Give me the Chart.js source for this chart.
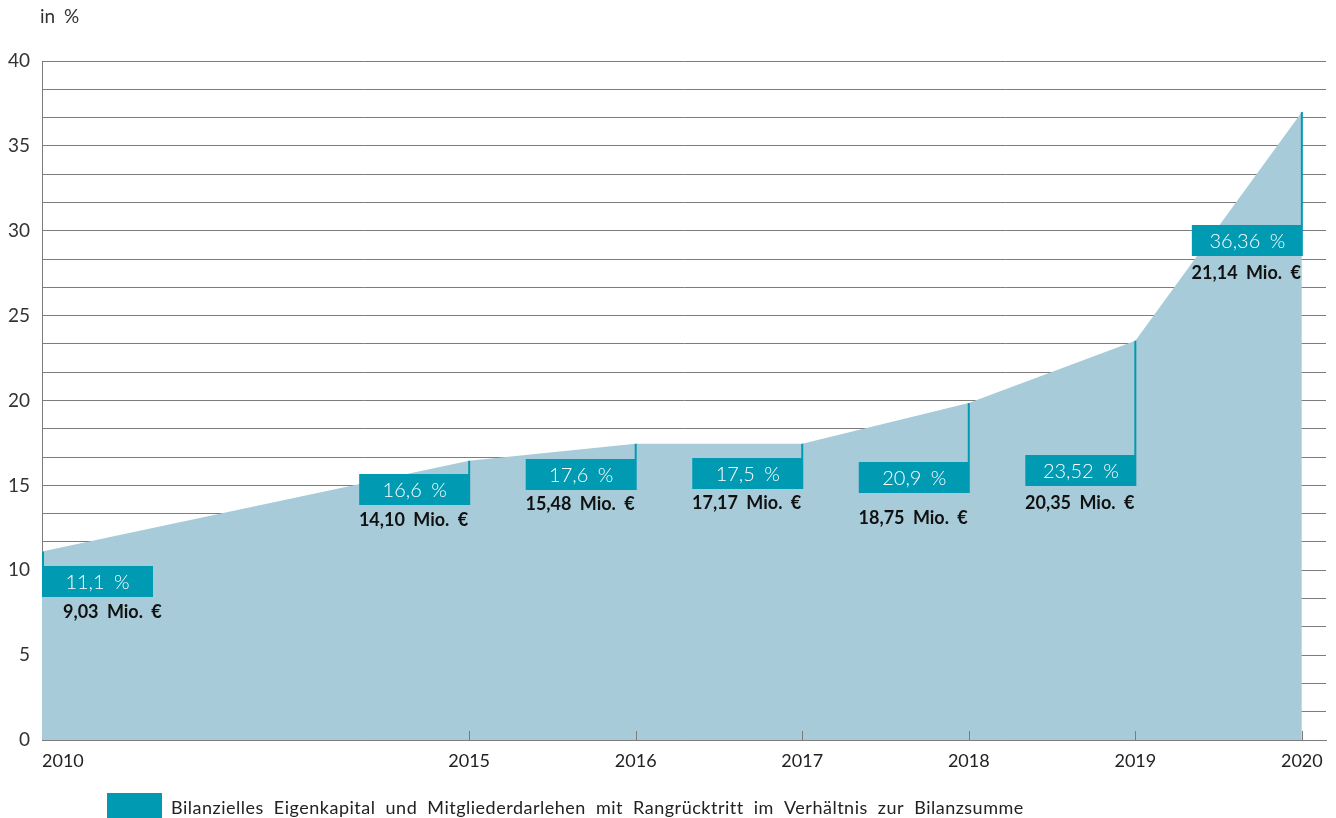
<!DOCTYPE html>
<html>
<head>
<meta charset="utf-8">
<script src="https://cdn.jsdelivr.net/npm/chart.js@4/dist/chart.umd.min.js"></script>
<style>
  body { margin: 0; background: #fff; }
</style>
</head>
<body>
<canvas id="ratio-chart" width="1336" height="818"></canvas>
<script>
// Daten
const years = ["2010", "2015", "2016", "2017", "2018", "2019", "2020"];
// Abstand auf der x-Achse wie im Original (2010 -> 2015 gestaucht)
const axisPos = [0, 2.565, 3.565, 4.565, 5.565, 6.565, 7.565];
const ratioValues = [11.1, 16.45, 17.45, 17.45, 19.85, 23.52, 37.0];
const ratioLabels = ["11,1 %", "16,6 %", "17,6 %", "17,5 %", "20,9 %", "23,52 %", "36,36 %"];
const capitalLabels = ["9,03 Mio. €", "14,10 Mio. €", "15,48 Mio. €", "17,17 Mio. €", "18,75 Mio. €", "20,35 Mio. €", "21,14 Mio. €"];
const legendText = "Bilanzielles Eigenkapital und Mitgliederdarlehen mit Rangrücktritt im Verhältnis zur Bilanzsumme";

// Lage der Beschriftungskästen (Oberkante in %, Abstand Text in px)
const boxLayout = [
  { top: 10.25, gap: 15 },
  { top: 15.67, gap: 15 },
  { top: 16.55, gap: 14 },
  { top: 16.61, gap: 14 },
  { top: 16.38, gap: 25 },
  { top: 16.79, gap: 17 },
  { top: 30.34, gap: 17 }
];

const FONT = 'Lato, "Open Sans", sans-serif';
const TEAL = "#009ab2";
const AREA = "#a7cbd9";
const GRID = "#7c7c7c";

function spacing(ctx, letter, word) {
  if ("letterSpacing" in ctx) ctx.letterSpacing = letter + "px";
  if ("wordSpacing" in ctx) ctx.wordSpacing = word + "px";
}

const overlay = {
  id: "overlay",
  afterDraw(chart) {
    const ctx = chart.ctx;
    const x = chart.scales.x;
    const y = chart.scales.y;
    const area = chart.chartArea;
    const gridPx = y.ticks.map(t => y.getPixelForValue(t.value));
    ctx.save();

    // kleine Striche an der x-Achse (nach innen)
    ctx.strokeStyle = GRID;
    ctx.lineWidth = 1;
    axisPos.forEach((p, i) => {
      if (i === 0) return;
      const px = Math.round(x.getPixelForValue(p)) + 0.5;
      ctx.beginPath();
      ctx.moveTo(px, area.bottom - 9);
      ctx.lineTo(px, area.bottom);
      ctx.stroke();
    });

    // Jahreszahlen
    ctx.fillStyle = "#222";
    ctx.font = "18px " + FONT;
    ctx.textBaseline = "middle";
    years.forEach((yr, i) => {
      const px = x.getPixelForValue(axisPos[i]);
      ctx.textAlign = i === 0 ? "left" : "center";
      ctx.fillText(yr, px, area.bottom + 21);
    });

    // Kästen + Linien
    years.forEach((yr, i) => {
      const px = x.getPixelForValue(axisPos[i]);
      const topVal = y.getPixelForValue(ratioValues[i]);
      const boxY = Math.round(y.getPixelForValue(boxLayout[i].top));
      const lx = i === 0 ? px + 1 : px;
      ctx.strokeStyle = TEAL;
      ctx.lineWidth = 2;
      ctx.beginPath();
      ctx.moveTo(lx, topVal);
      ctx.lineTo(lx, boxY);
      ctx.stroke();

      const bw = 111, bh = 31;
      const bx = i === 0 ? px : px - 110;
      ctx.fillStyle = TEAL;
      ctx.fillRect(bx, boxY, bw, bh);

      spacing(ctx, 0, 4);
      ctx.fillStyle = "#fff";
      ctx.font = "300 20px " + FONT;
      ctx.textAlign = "center";
      ctx.textBaseline = "middle";
      ctx.fillText(ratioLabels[i], bx + bw / 2, boxY + bh / 2 + 1);

      // Mio.-Text
      ctx.font = "bold 18px " + FONT;
      const tw = ctx.measureText(capitalLabels[i]).width;
      const ty = boxY + bh + boxLayout[i].gap;
      const tx = i === 0 ? px + 21 : px - 1 - tw;
      if (gridPx.some(g => g > ty - 9 && g < ty + 9)) {
        ctx.fillStyle = AREA;
        ctx.fillRect(tx - 15, ty - 9, tw + 17, 18);
      }
      ctx.fillStyle = "#111";
      ctx.textAlign = "left";
      ctx.fillText(capitalLabels[i], tx, ty);
      spacing(ctx, 0, 0);
    });

    // Einheit
    ctx.fillStyle = "#333";
    ctx.font = "19px " + FONT;
    ctx.textAlign = "left";
    spacing(ctx, 0, 4);
    ctx.fillText("in %", 40, 17);

    // Legende
    ctx.fillStyle = TEAL;
    ctx.fillRect(107, 793, 55, 30);
    ctx.fillStyle = "#222";
    ctx.font = "18px " + FONT;
    spacing(ctx, 0.5, 5);
    ctx.fillText(legendText, 171, 808);
    spacing(ctx, 0, 0);

    ctx.restore();
  }
};

new Chart(document.getElementById("ratio-chart").getContext("2d"), {
  type: "line",
  data: {
    datasets: [{
      label: legendText,
      data: axisPos.map((p, i) => ({ x: p, y: ratioValues[i] })),
      backgroundColor: AREA,
      borderWidth: 0,
      pointRadius: 0,
      fill: "origin",
      tension: 0
    }]
  },
  options: {
    responsive: false,
    animation: false,
    layout: { padding: { top: 61, right: 10, left: 0, bottom: 0 } },
    plugins: {
      legend: { display: false },
      tooltip: { enabled: false }
    },
    scales: {
      x: {
        type: "linear",
        min: 0,
        max: 7.71,
        grid: { display: false },
        border: { display: true, color: GRID, width: 1 },
        ticks: { display: false },
        afterFit: s => { s.height = 78; }
      },
      y: {
        min: 0,
        max: 40,
        z: 1,
        afterBuildTicks: s => {
          s.ticks = [];
          for (let k = 0; k <= 24; k++) s.ticks.push({ value: k * 5 / 3 });
        },
        grid: { color: GRID, lineWidth: 1, drawTicks: false },
        border: { display: true, color: GRID, width: 1 },
        ticks: {
          padding: 12,
          color: "#333",
          font: { family: FONT, size: 19 },
          callback: v => {
            const r = Math.round(v / 5) * 5;
            return Math.abs(v - r) < 1e-6 ? String(r) : "";
          }
        },
        afterFit: s => { s.width = 42; }
      }
    }
  },
  plugins: [overlay]
});
</script>
</body>
</html>
